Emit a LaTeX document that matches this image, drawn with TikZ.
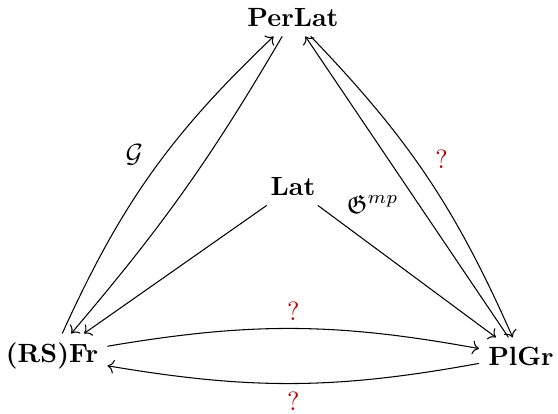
\documentclass[tikz,border=0pt]{standalone}
\usepackage{amsmath,amssymb}
\usepackage{xcolor}
\usetikzlibrary{arrows.meta}

\begin{document}
\begin{tikzpicture}[
  x=0.01333cm, y=-0.01333cm,
  obj/.style={font=\bfseries},
  ar/.style={-{To}, thin},
  lab/.style={auto, inner sep=3pt},
  qm/.style={lab, text=red!75!black}
]
  \useasboundingbox (0,0) rectangle (558,414);

  \node[obj] (perlat) at (293,18)  {PerLat};
  \node[obj] (lat)    at (293,187) {Lat};
  \node[obj] (fr)     at (52,356)  {(RS)Fr};
  \node[obj] (plgr)   at (521,356) {PlGr};

  % left side
  \draw[ar] (fr) to[bend left=11] node[lab, pos=0.5] {$\mathcal{G}$} (perlat);
  \draw[ar] (perlat) to[bend left=5] (fr);
  % right side
  \draw[ar] (perlat) to[bend left=10] node[qm, pos=0.5] {?} (plgr);
  \draw[ar] (plgr) -- node[lab, pos=0.5] {$\mathfrak{G}^{mp}$} (perlat);
  % from Lat
  \draw[ar] (lat) -- (fr);
  \draw[ar] (lat) -- (plgr);
  % bottom
  \draw[ar] (fr) to[bend left=10] node[qm] {?} (plgr);
  \draw[ar] (plgr) to[bend left=10] node[qm] {?} (fr);
\end{tikzpicture}
\end{document}
